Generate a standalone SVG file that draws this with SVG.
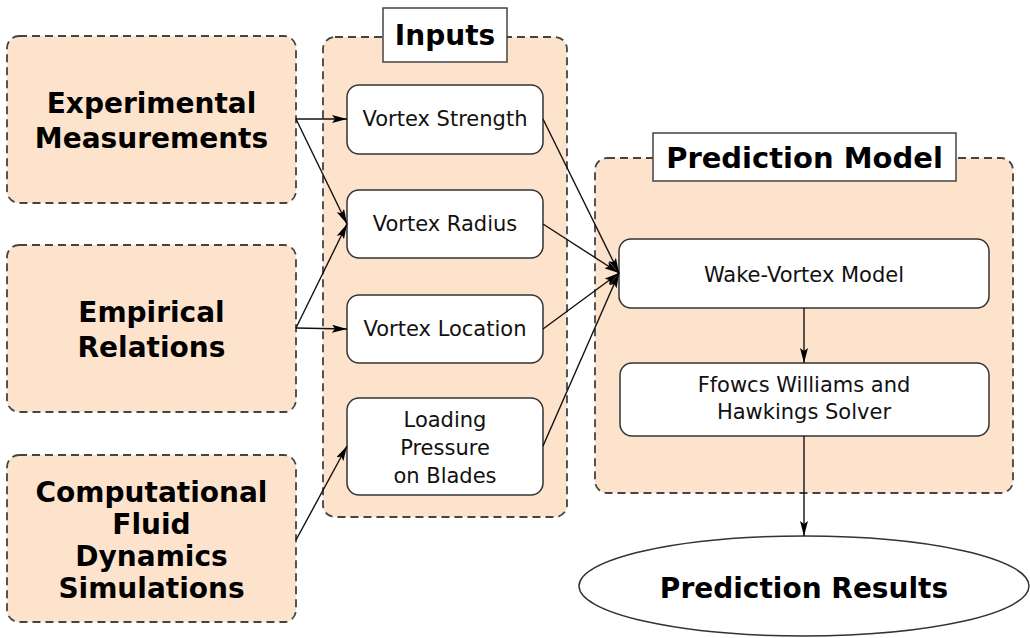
<svg xmlns="http://www.w3.org/2000/svg" width="1030" height="638" viewBox="0 0 1030 638">
<style>
.cont{fill:#fde3cc;stroke:#444;stroke-width:1.8;stroke-dasharray:8,5}
.box{fill:#fff;stroke:#333;stroke-width:1.5}
.title{fill:#fff;stroke:#444;stroke-width:1.5}
.big{font-family:"DejaVu Sans",sans-serif;font-weight:bold;font-size:28px;fill:#000;text-anchor:middle}
.reg{font-family:"DejaVu Sans",sans-serif;font-size:21px;fill:#111;text-anchor:middle}
.edge{stroke:#111;stroke-width:1.4;fill:none;marker-end:url(#ah)}
</style>
<defs>
<marker id="ah" viewBox="0 0 15 8" refX="15" refY="4" markerWidth="15" markerHeight="8" markerUnits="userSpaceOnUse" orient="auto">
<path d="M0,0 L15,4 L0,8 L3,4 Z" fill="#000"/>
</marker>
</defs>
<rect width="1030" height="638" fill="#fff"/>
<g id="experimental">
<rect class="cont" x="7" y="36" width="289" height="167" rx="12"/>
<text class="big" x="151.5" y="113">Experimental</text>
<text class="big" x="151.5" y="148">Measurements</text>
</g>
<g id="empirical">
<rect class="cont" x="7" y="245" width="289" height="167" rx="12"/>
<text class="big" x="151.5" y="322">Empirical</text>
<text class="big" x="151.5" y="357">Relations</text>
</g>
<g id="cfd">
<rect class="cont" x="7" y="455" width="289" height="167" rx="12"/>
<text class="big" x="151.5" y="502">Computational</text>
<text class="big" x="151.5" y="534">Fluid</text>
<text class="big" x="151.5" y="566">Dynamics</text>
<text class="big" x="151.5" y="598">Simulations</text>
</g>
<g id="inputs">
<rect class="cont" x="323" y="37" width="244" height="480" rx="12"/>
<rect class="title" x="383" y="8" width="124" height="54"/>
<text class="big" x="445" y="45">Inputs</text>
</g>
<g id="vortex-strength">
<rect class="box" x="347" y="85" width="196" height="69" rx="12"/>
<text class="reg" x="445" y="126">Vortex Strength</text>
</g>
<g id="vortex-radius">
<rect class="box" x="347" y="190" width="196" height="68" rx="12"/>
<text class="reg" x="445" y="231">Vortex Radius</text>
</g>
<g id="vortex-location">
<rect class="box" x="347" y="295" width="196" height="68" rx="12"/>
<text class="reg" x="445" y="336">Vortex Location</text>
</g>
<g id="loading">
<rect class="box" x="347" y="398" width="196" height="97" rx="12"/>
<text class="reg" x="445" y="427">Loading</text>
<text class="reg" x="445" y="455">Pressure</text>
<text class="reg" x="445" y="483">on Blades</text>
</g>
<g id="prediction-model">
<rect class="cont" x="595" y="158" width="418" height="335" rx="12"/>
<rect class="title" x="653" y="133" width="303" height="48"/>
<text class="big" x="804.5" y="168" style="font-size:29px">Prediction Model</text>
</g>
<g id="wake-vortex">
<rect class="box" x="619" y="239" width="370" height="69" rx="12"/>
<text class="reg" x="804" y="282">Wake-Vortex Model</text>
</g>
<g id="fwh">
<rect class="box" x="620" y="363" width="369" height="73" rx="12"/>
<text class="reg" x="804" y="392">Ffowcs Williams and</text>
<text class="reg" x="804" y="419">Hawkings Solver</text>
</g>
<g id="results">
<ellipse cx="804" cy="586" rx="225" ry="50" fill="#fff" stroke="#333" stroke-width="1.5"/>
<text class="big" x="804" y="598">Prediction Results</text>
</g>
<g id="connectors">
<line class="edge" x1="296" y1="119" x2="347" y2="119"/>
<line class="edge" x1="296" y1="119" x2="347" y2="224"/>
<line class="edge" x1="296" y1="328" x2="347" y2="224"/>
<line class="edge" x1="296" y1="328" x2="347" y2="329"/>
<line class="edge" x1="296" y1="540" x2="347" y2="446"/>
<line class="edge" x1="543" y1="119" x2="619" y2="273"/>
<line class="edge" x1="543" y1="224" x2="619" y2="273"/>
<line class="edge" x1="543" y1="329" x2="619" y2="273"/>
<line class="edge" x1="543" y1="446" x2="619" y2="273"/>
<line class="edge" x1="804" y1="308" x2="804" y2="363"/>
<line class="edge" x1="804" y1="436" x2="804" y2="536"/>
</g>
</svg>
